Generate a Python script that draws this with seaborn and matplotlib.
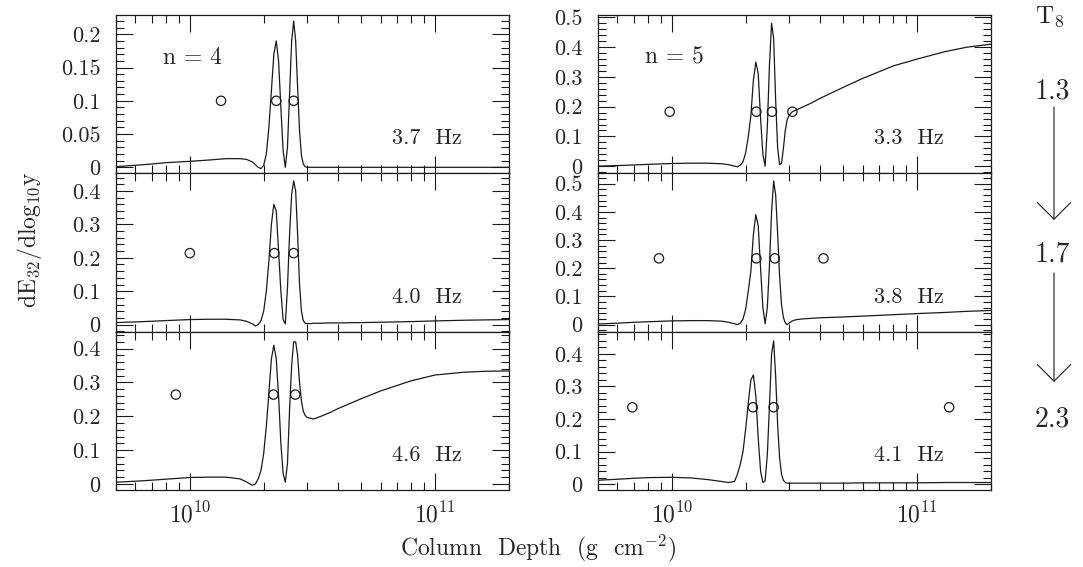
import numpy as np
import matplotlib
matplotlib.use("Agg")
import matplotlib.pyplot as plt
import seaborn as sns
from matplotlib.ticker import LogLocator, MultipleLocator, FuncFormatter, NullFormatter
from matplotlib.patches import FancyArrowPatch

# column depth grid, units of 1e10 g cm^-2
depth = [0.5, 0.6, 0.7, 0.8, 1.0, 1.2, 1.4, 1.6, 1.7, 1.8, 1.85, 1.9, 1.95,
         2.0, 2.05, 2.1, 2.15, 2.2, 2.25, 2.3, 2.35, 2.4, 2.45, 2.5, 2.55,
         2.6, 2.65, 2.7, 2.75, 2.8, 2.85, 2.9, 2.95, 3.0, 3.1, 3.2, 3.4,
         3.7, 4.0, 5.0, 6.0, 8.0, 10, 13, 16, 20]

# dE32/dlog10 y, n=4 (left column), T8 = 1.3, 1.7, 2.3
n4_t13 = [0.001, 0.003, 0.005, 0.007, 0.009, 0.011, 0.013, 0.013, 0.012, 0.008,
          0.004, 0.000, -0.002, 0.003, 0.020, 0.060, 0.115, 0.170, 0.190, 0.160,
          0.090, 0.025, 0.000, 0.030, 0.110, 0.190, 0.220, 0.190, 0.120, 0.055,
          0.018, 0.005, 0.001, 0.000, 0.000, 0.000, 0.000, 0.000, 0.000, 0.000,
          0.000, 0.000, 0.000, 0.000, 0.000, 0.000]
n4_t17 = [0.006, 0.008, 0.010, 0.012, 0.015, 0.016, 0.016, 0.014, 0.010, 0.002,
          -0.004, 0.000, 0.012, 0.040, 0.100, 0.190, 0.300, 0.360, 0.340, 0.220,
          0.100, 0.015, 0.002, 0.110, 0.270, 0.390, 0.430, 0.400, 0.270, 0.120,
          0.040, 0.012, 0.004, 0.003, 0.003, 0.004, 0.004, 0.005, 0.005, 0.006,
          0.007, 0.009, 0.011, 0.013, 0.014, 0.015]
n4_t23 = [0.005, 0.008, 0.011, 0.014, 0.019, 0.020, 0.020, 0.015, 0.006, -0.004,
          0.000, 0.015, 0.040, 0.090, 0.170, 0.270, 0.370, 0.410, 0.370, 0.260,
          0.120, 0.030, 0.005, 0.060, 0.220, 0.350, 0.420, 0.420, 0.380, 0.300,
          0.245, 0.215, 0.203, 0.197, 0.194, 0.192, 0.199, 0.210, 0.222, 0.252,
          0.275, 0.305, 0.322, 0.330, 0.333, 0.334]

# n=5 (right column)
n5_t13 = [0.000, 0.002, 0.004, 0.006, 0.009, 0.010, 0.010, 0.008, 0.005, 0.000,
          -0.002, 0.003, 0.015, 0.045, 0.100, 0.170, 0.290, 0.350, 0.310, 0.160,
          0.040, 0.000, 0.130, 0.340, 0.480, 0.430, 0.220, 0.060, 0.005, 0.010,
          0.060, 0.120, 0.155, 0.170, 0.183, 0.188, 0.198, 0.212, 0.227, 0.265,
          0.295, 0.337, 0.360, 0.385, 0.400, 0.410]
n5_t17 = [0.002, 0.005, 0.008, 0.010, 0.013, 0.014, 0.014, 0.012, 0.008, 0.003,
          0.000, 0.005, 0.020, 0.055, 0.120, 0.190, 0.320, 0.390, 0.350, 0.200,
          0.060, 0.003, 0.060, 0.210, 0.400, 0.510, 0.460, 0.320, 0.170, 0.070,
          0.025, 0.006, 0.000, 0.005, 0.013, 0.017, 0.020, 0.022, 0.024, 0.027,
          0.030, 0.035, 0.039, 0.043, 0.047, 0.050]
n5_t23 = [0.012, 0.015, 0.018, 0.020, 0.021, 0.019, 0.014, 0.008, 0.005, 0.008,
          0.030, 0.060, 0.100, 0.170, 0.250, 0.320, 0.335, 0.270, 0.140, 0.040,
          0.005, 0.010, 0.090, 0.240, 0.400, 0.440, 0.330, 0.180, 0.080, 0.030,
          0.012, 0.005, 0.003, 0.003, 0.003, 0.003, 0.003, 0.003, 0.003, 0.003,
          0.004, 0.004, 0.004, 0.005, 0.005, 0.005]

# open circles (x in 1e10 g cm^-2, one y level per panel)
circ_x = {
    "n4_t13": [1.34, 2.25, 2.65], "n4_t17": [1.0, 2.21, 2.65], "n4_t23": [0.877, 2.19, 2.69],
    "n5_t13": [0.98, 2.21, 2.56, 3.1], "n5_t17": [0.886, 2.21, 2.63, 4.15],
    "n5_t23": [0.69, 2.14, 2.6, 13.5],
}
circ_y = {"n4_t13": 0.1, "n4_t17": 0.214, "n4_t23": 0.264,
          "n5_t13": 0.183, "n5_t17": 0.235, "n5_t23": 0.236}

freqs = {"n4_t13": "3.7  Hz", "n4_t17": "4.0  Hz", "n4_t23": "4.6  Hz",
         "n5_t13": "3.3  Hz", "n5_t17": "3.8  Hz", "n5_t23": "4.1  Hz"}
temps = ["1.3", "1.7", "2.3"]

curves = {"n4_t13": n4_t13, "n4_t17": n4_t17, "n4_t23": n4_t23,
          "n5_t13": n5_t13, "n5_t17": n5_t17, "n5_t23": n5_t23}
ylims = {"n4_t13": (-0.009, 0.229), "n4_t17": (-0.021, 0.453), "n4_t23": (-0.018, 0.45),
         "n5_t13": (-0.024, 0.508), "n5_t17": (-0.025, 0.537), "n5_t23": (-0.018, 0.468)}

sns.set_theme(style="ticks")
plt.rcParams["font.family"] = ["cmr10", "DejaVu Serif"]
plt.rcParams["mathtext.fontset"] = "cm"
plt.rcParams["axes.formatter.use_mathtext"] = True
plt.rcParams["axes.unicode_minus"] = False

fig = plt.figure(figsize=(10.83, 5.67), dpi=100)

W, H = 1083, 567
col_left = [116, 598]
col_w = 393
row_top = [15, 173.3, 331.7]
row_h = 158.3

x = np.array(depth) * 1e10
fmt = FuncFormatter(lambda v, p: f"{round(v, 3) + 0:g}")

for ci, n in enumerate(["n4", "n5"]):
    for ri, t in enumerate(["t13", "t17", "t23"]):
        key = f"{n}_{t}"
        ax = fig.add_axes([col_left[ci] / W, 1 - (row_top[ri] + row_h) / H,
                           col_w / W, row_h / H])
        sns.lineplot(x=x, y=curves[key], ax=ax, color="k", lw=0.9,
                     estimator=None, sort=False)
        sns.scatterplot(x=np.array(circ_x[key]) * 1e10, y=[circ_y[key]] * len(circ_x[key]),
                        ax=ax, marker="o", s=45, facecolor="none", edgecolor="k",
                        linewidth=0.9, zorder=3)
        ax.set_xscale("log")
        ax.set_xlim(5e9, 2e11)
        ax.set_ylim(*ylims[key])
        ax.xaxis.set_major_locator(LogLocator(base=10, numticks=10))
        ax.xaxis.set_minor_locator(LogLocator(base=10, subs=range(2, 10), numticks=20))
        ax.xaxis.set_minor_formatter(NullFormatter())
        step = 0.05 if key == "n4_t13" else 0.1
        ax.yaxis.set_major_locator(MultipleLocator(step))
        ax.yaxis.set_minor_locator(MultipleLocator(step / 5))
        ax.yaxis.set_major_formatter(fmt)
        ax.tick_params(which="both", direction="in", top=True, right=True,
                       width=0.8, color="k")
        ax.tick_params(axis="y", labelsize=16, pad=11)
        ax.tick_params(axis="x", labelsize=17, pad=9)
        ax.tick_params(which="major", length=12)
        ax.tick_params(which="minor", length=6)
        if ri < 2:
            ax.tick_params(labelbottom=False)
        for s in ax.spines.values():
            s.set_linewidth(0.9)
            s.set_color("k")
        ax.set_xlabel("")
        ax.set_ylabel("")
        ax.text(0.88, 0.22, freqs[key], transform=ax.transAxes, ha="right",
                va="center", fontsize=16)
        if ri == 0:
            ax.text(0.12, 0.73, "n = 4" if n == "n4" else "n = 5",
                    transform=ax.transAxes, ha="left", va="center", fontsize=17)

fig.text(29 / W, 1 - 240 / H, r"dE$_{32}$/dlog$_{10}$y", rotation=90,
         ha="center", va="center", fontsize=17)
fig.text(538 / W, 1 - 548 / H, r"Column  Depth  (g  cm$^{-2}$)",
         ha="center", va="center", fontsize=17)

# temperature column on the right
fig.text(1050 / W, 1 - 17 / H, r"T$_8$", ha="center", va="center", fontsize=18)
for label, yy in zip(temps, [91, 254, 419]):
    fig.text(1052 / W, 1 - yy / H, label, ha="center", va="center", fontsize=20)
for y0, y1 in [(107, 220), (273, 382)]:
    arr = FancyArrowPatch((1054 / W, 1 - y0 / H), (1054 / W, 1 - y1 / H),
                          transform=fig.transFigure,
                          arrowstyle="->,head_length=12,head_width=12",
                          lw=0.8, color="k", shrinkA=0, shrinkB=0)
    fig.add_artist(arr)

fig.savefig("out.png", dpi=100)
